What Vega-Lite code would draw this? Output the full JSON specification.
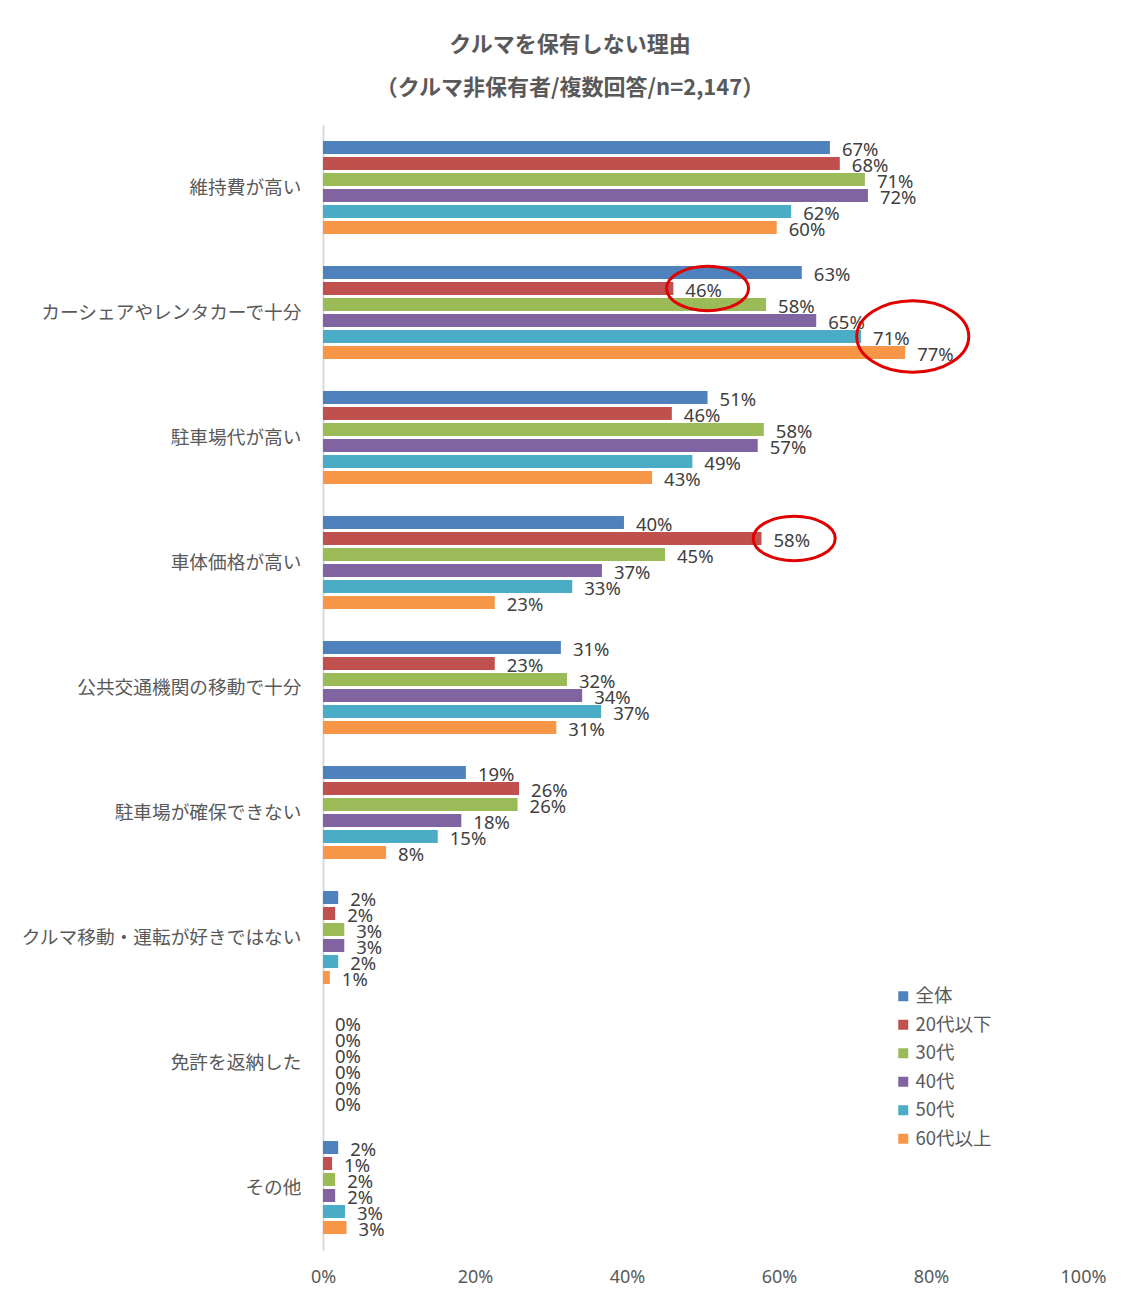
{
  "$schema": "https://vega.github.io/schema/vega-lite/v6.json",
  "width": 760,
  "height": 1125,
  "autosize": "none",
  "padding": {"left": 323, "top": 125, "right": 53, "bottom": 66},
  "background": "white",
  "title": {
    "text": ["クルマを保有しない理由", "（クルマ非保有者/複数回答/n=2,147）"],
    "font": "Noto Sans CJK JP",
    "fontSize": 22,
    "fontWeight": "bold",
    "color": "#595959",
    "anchor": "middle",
    "dx": -133,
    "offset": 25,
    "lineHeight": 43
  },
  "config": {
    "view": {"stroke": null},
    "font": "Noto Sans CJK JP"
  },
  "datasets": {
    "bars": [
      {"cat": "維持費が高い", "series": "全体", "value": 0.667},
      {"cat": "維持費が高い", "series": "20代以下", "value": 0.680},
      {"cat": "維持費が高い", "series": "30代", "value": 0.713},
      {"cat": "維持費が高い", "series": "40代", "value": 0.717},
      {"cat": "維持費が高い", "series": "50代", "value": 0.616},
      {"cat": "維持費が高い", "series": "60代以上", "value": 0.597},
      {"cat": "カーシェアやレンタカーで十分", "series": "全体", "value": 0.630},
      {"cat": "カーシェアやレンタカーで十分", "series": "20代以下", "value": 0.461},
      {"cat": "カーシェアやレンタカーで十分", "series": "30代", "value": 0.583},
      {"cat": "カーシェアやレンタカーで十分", "series": "40代", "value": 0.649},
      {"cat": "カーシェアやレンタカーで十分", "series": "50代", "value": 0.708},
      {"cat": "カーシェアやレンタカーで十分", "series": "60代以上", "value": 0.766},
      {"cat": "駐車場代が高い", "series": "全体", "value": 0.506},
      {"cat": "駐車場代が高い", "series": "20代以下", "value": 0.459},
      {"cat": "駐車場代が高い", "series": "30代", "value": 0.580},
      {"cat": "駐車場代が高い", "series": "40代", "value": 0.572},
      {"cat": "駐車場代が高い", "series": "50代", "value": 0.486},
      {"cat": "駐車場代が高い", "series": "60代以上", "value": 0.433},
      {"cat": "車体価格が高い", "series": "全体", "value": 0.396},
      {"cat": "車体価格が高い", "series": "20代以下", "value": 0.577},
      {"cat": "車体価格が高い", "series": "30代", "value": 0.450},
      {"cat": "車体価格が高い", "series": "40代", "value": 0.367},
      {"cat": "車体価格が高い", "series": "50代", "value": 0.328},
      {"cat": "車体価格が高い", "series": "60代以上", "value": 0.226},
      {"cat": "公共交通機関の移動で十分", "series": "全体", "value": 0.313},
      {"cat": "公共交通機関の移動で十分", "series": "20代以下", "value": 0.226},
      {"cat": "公共交通機関の移動で十分", "series": "30代", "value": 0.321},
      {"cat": "公共交通機関の移動で十分", "series": "40代", "value": 0.341},
      {"cat": "公共交通機関の移動で十分", "series": "50代", "value": 0.366},
      {"cat": "公共交通機関の移動で十分", "series": "60代以上", "value": 0.307},
      {"cat": "駐車場が確保できない", "series": "全体", "value": 0.188},
      {"cat": "駐車場が確保できない", "series": "20代以下", "value": 0.258},
      {"cat": "駐車場が確保できない", "series": "30代", "value": 0.256},
      {"cat": "駐車場が確保できない", "series": "40代", "value": 0.182},
      {"cat": "駐車場が確保できない", "series": "50代", "value": 0.151},
      {"cat": "駐車場が確保できない", "series": "60代以上", "value": 0.083},
      {"cat": "クルマ移動・運転が好きではない", "series": "全体", "value": 0.020},
      {"cat": "クルマ移動・運転が好きではない", "series": "20代以下", "value": 0.016},
      {"cat": "クルマ移動・運転が好きではない", "series": "30代", "value": 0.028},
      {"cat": "クルマ移動・運転が好きではない", "series": "40代", "value": 0.028},
      {"cat": "クルマ移動・運転が好きではない", "series": "50代", "value": 0.020},
      {"cat": "クルマ移動・運転が好きではない", "series": "60代以上", "value": 0.009},
      {"cat": "免許を返納した", "series": "全体", "value": 0.0},
      {"cat": "免許を返納した", "series": "20代以下", "value": 0.0},
      {"cat": "免許を返納した", "series": "30代", "value": 0.0},
      {"cat": "免許を返納した", "series": "40代", "value": 0.0},
      {"cat": "免許を返納した", "series": "50代", "value": 0.0},
      {"cat": "免許を返納した", "series": "60代以上", "value": 0.0},
      {"cat": "その他", "series": "全体", "value": 0.020},
      {"cat": "その他", "series": "20代以下", "value": 0.012},
      {"cat": "その他", "series": "30代", "value": 0.016},
      {"cat": "その他", "series": "40代", "value": 0.016},
      {"cat": "その他", "series": "50代", "value": 0.029},
      {"cat": "その他", "series": "60代以上", "value": 0.031}
    ],
    "ann": [
      {"cat": "カーシェアやレンタカーで十分", "series": "20代以下", "x": 0.506, "kind": "small"},
      {"cat": "カーシェアやレンタカーで十分", "series": "50代", "x": 0.776, "kind": "big"},
      {"cat": "車体価格が高い", "series": "20代以下", "x": 0.620, "kind": "small"}
    ]
  },
  "encoding": {
    "y": {
      "field": "cat",
      "type": "nominal",
      "sort": ["維持費が高い", "カーシェアやレンタカーで十分", "駐車場代が高い", "車体価格が高い", "公共交通機関の移動で十分", "駐車場が確保できない", "クルマ移動・運転が好きではない", "免許を返納した", "その他"],
      "scale": {"paddingInner": 0.232, "paddingOuter": 0.116},
      "axis": {
        "title": null,
        "ticks": false,
        "domainColor": "#d9d9d9",
        "domainWidth": 2,
        "labelFontSize": 18.7,
        "labelColor": "#595959",
        "labelPadding": 22,
        "labelLimit": 400
      }
    },
    "yOffset": {
      "field": "series",
      "type": "nominal",
      "sort": ["全体", "20代以下", "30代", "40代", "50代", "60代以上"],
      "scale": {"paddingInner": 0.19, "paddingOuter": 0.095}
    }
  },
  "layer": [
    {
      "data": {"name": "bars"},
      "mark": {"type": "bar"},
      "encoding": {
        "x": {
          "field": "value",
          "type": "quantitative",
          "scale": {"domain": [0, 1]},
          "axis": {
            "title": null,
            "format": ".0%",
            "values": [0, 0.2, 0.4, 0.6, 0.8, 1],
            "grid": false,
            "domain": false,
            "ticks": false,
            "labelFlush": false,
            "labelFontSize": 18,
            "labelColor": "#595959",
            "labelPadding": 18,
            "labelFont": "Noto Sans"
          }
        },
        "color": {
          "field": "series",
          "type": "nominal",
          "sort": ["全体", "20代以下", "30代", "40代", "50代", "60代以上"],
          "scale": {
            "domain": ["全体", "20代以下", "30代", "40代", "50代", "60代以上"],
            "range": ["#4F81BD", "#C0504D", "#9BBB59", "#8064A2", "#4BACC6", "#F79646"]
          },
          "legend": {
            "title": null,
            "orient": "none",
            "legendX": 571,
            "legendY": 862,
            "symbolType": "square",
            "symbolSize": 100,
            "symbolStrokeWidth": 0,
            "labelFontSize": 18.5,
            "labelColor": "#595959",
            "rowPadding": 9.5,
            "labelOffset": 3
          }
        }
      }
    },
    {
      "data": {"name": "bars"},
      "mark": {"type": "text", "align": "left", "baseline": "middle", "dx": 12, "dy": 2, "fontSize": 18.5, "color": "#404040", "font": "Noto Sans"},
      "encoding": {
        "x": {"field": "value", "type": "quantitative"},
        "text": {"field": "value", "type": "quantitative", "format": ".0%"}
      }
    },
    {
      "data": {"name": "ann"},
      "mark": {"type": "point", "filled": false, "stroke": "#E00000", "strokeWidth": 3, "opacity": 1},
      "encoding": {
        "x": {"field": "x", "type": "quantitative"},
        "shape": {
          "field": "kind",
          "type": "nominal",
          "scale": {
            "domain": ["small", "big"],
            "range": ["M-1,0A1,0.54,0,1,1,1,0A1,0.54,0,1,1,-1,0Z", "M-1,0A1,0.64,0,1,1,1,0A1,0.64,0,1,1,-1,0Z"]
          },
          "legend": null
        },
        "size": {
          "field": "kind",
          "type": "nominal",
          "scale": {"domain": ["small", "big"], "range": [6724, 12544]},
          "legend": null
        }
      }
    }
  ]
}
